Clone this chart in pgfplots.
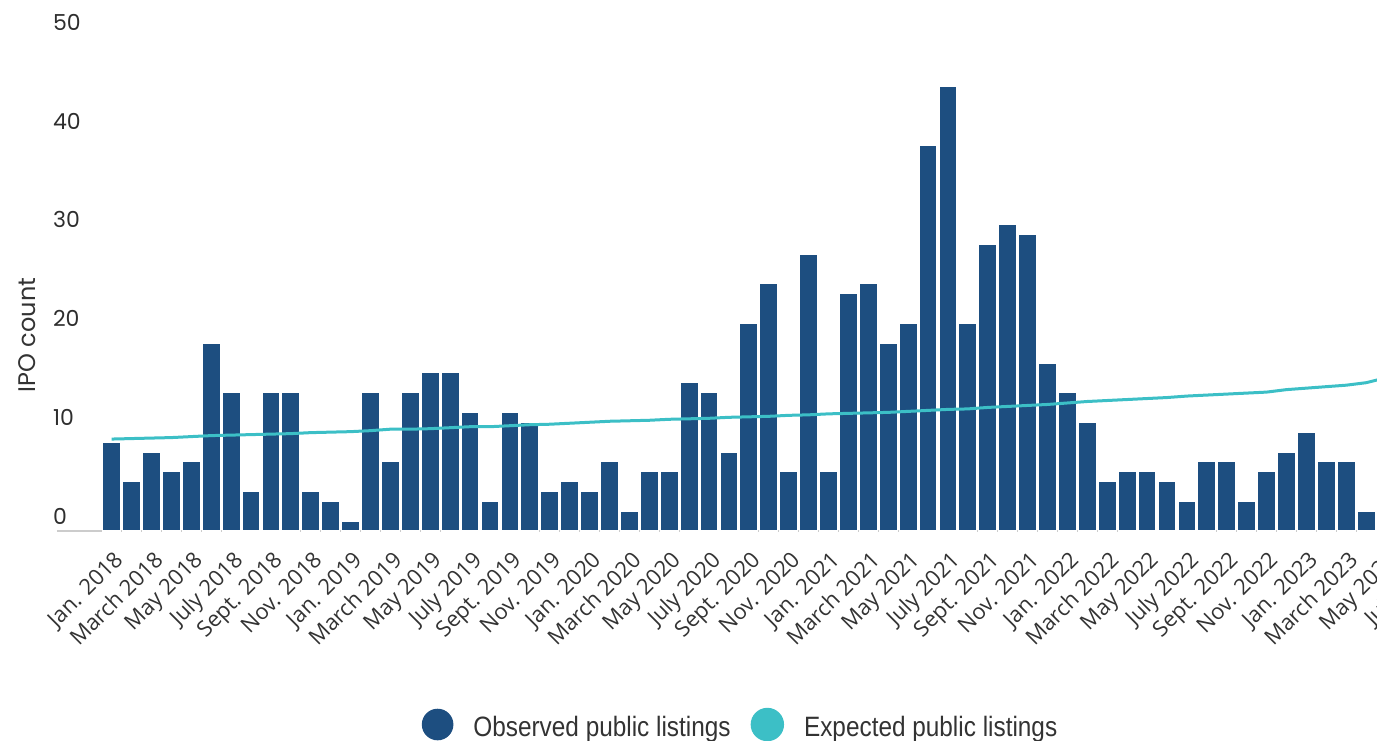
\documentclass[border=0pt]{standalone}
\usepackage{pgfplots}
\usepackage{pgfplotstable}
\pgfplotsset{compat=1.18}
\usepackage{fontspec}
\setmainfont{Open Sans}
\newfontfamily\popfont{Poppins}
\newfontfamily\legfont[FakeStretch=0.87]{Liberation Sans}
\definecolor{obs}{HTML}{1D4E80}
\definecolor{expc}{HTML}{3CBFC6}
\definecolor{txt}{HTML}{333333}

\pgfplotstableread{
idx val
0 9
1 5
2 8
3 6
4 7
5 19
6 14
7 4
8 14
9 14
10 4
11 3
12 1
13 14
14 7
15 14
16 16
17 16
18 12
19 3
20 12
21 11
22 4
23 5
24 4
25 7
26 2
27 6
28 6
29 15
30 14
31 8
32 21
33 25
34 6
35 28
36 6
37 24
38 25
39 19
40 21
41 39
42 45
43 21
44 29
45 31
46 30
47 17
48 14
49 11
50 5
51 6
52 6
53 5
54 3
55 7
56 7
57 3
58 6
59 8
60 10
61 7
62 7
63 2
64 4
}\obsdata

\pgfplotstableread{
idx val
0 9.3
1 9.35
2 9.4
3 9.45
4 9.55
5 9.65
6 9.7
7 9.75
8 9.8
9 9.85
10 9.95
11 10.0
12 10.05
13 10.15
14 10.3
15 10.3
16 10.35
17 10.45
18 10.55
19 10.55
20 10.65
21 10.75
22 10.8
23 10.9
24 11.0
25 11.1
26 11.15
27 11.2
28 11.3
29 11.35
30 11.4
31 11.5
32 11.55
33 11.6
34 11.7
35 11.75
36 11.85
37 11.9
38 11.95
39 12.0
40 12.1
41 12.2
42 12.3
43 12.35
44 12.5
45 12.6
46 12.7
47 12.8
48 12.95
49 13.1
50 13.2
51 13.3
52 13.4
53 13.5
54 13.65
55 13.75
56 13.85
57 13.95
58 14.05
59 14.3
60 14.45
61 14.6
62 14.75
63 15.0
64 15.5
}\expdata

\begin{document}
\begin{tikzpicture}
\useasboundingbox (0,0) rectangle (688.5pt,370pt);
\clip (0,0) rectangle (688.5pt,370pt);
\begin{axis}[
  at={(28.47pt,104.5pt)}, anchor=south west,
  scale only axis, width=694.4pt, height=247.15pt,
  xmin=-2.75, xmax=67, ymin=0, ymax=50,
  axis x line=bottom, axis y line=left,
  x axis line style={draw=gray!40, line width=0.9pt, -},
  y axis line style={draw=none},
  xtick={0,2,...,66},
  xticklabels={Jan. 2018,March 2018,May 2018,July 2018,Sept. 2018,Nov. 2018,
    Jan. 2019,March 2019,May 2019,July 2019,Sept. 2019,Nov. 2019,
    Jan. 2020,March 2020,May 2020,July 2020,Sept. 2020,Nov. 2020,
    Jan. 2021,March 2021,May 2021,July 2021,Sept. 2021,Nov. 2021,
    Jan. 2022,March 2022,May 2022,July 2022,Sept. 2022,Nov. 2022,
    Jan. 2023,March 2023,May 2023,July 2023},
  xtick style={draw=none}, ytick style={draw=none},
  ytick={0,10,...,50},
  /pgf/number format/assume math mode=true,
  yticklabel style={font=\popfont\fontsize{11}{11}\selectfont, text=txt!90!black, anchor=south west, inner sep=0pt, yshift=3pt},
  xticklabel style={font=\fontsize{11}{11}\selectfont, text=txt, inner sep=0pt, xshift=0.5pt, yshift=-7pt, rotate=45, anchor=north east},
  ylabel={IPO count},
  every axis y label/.style={at={(axis description cs:-0.02156,0.3965)}, rotate=90, anchor=center, font=\popfont\fontsize{12}{12}\selectfont, text=txt},
  legend columns=2,
  legend style={at={(0.4915,-0.3915)}, anchor=center, draw=none, fill=none,
    font=\legfont\fontsize{14}{14}\selectfont, text=txt,
    nodes={inner sep=0pt},
    /tikz/every odd column/.append style={column sep=10pt},
    /tikz/every even column/.append style={column sep=10pt}},
]
\addplot[ybar, bar width=9pt, fill=obs, draw=white, line width=0.6pt,
  legend image code/.code={\fill[obs] (7.6pt,1.5pt) circle (7.6pt);}]
  table[x=idx,y=val]{\obsdata};
\addlegendentry{Observed public listings}
\addplot[expc, line width=1.5pt, mark=none,
  legend image code/.code={\fill[expc] (7.6pt,1.5pt) circle (7.6pt);}]
  table[x=idx,y=val]{\expdata};
\addlegendentry{Expected public listings}
\end{axis}
\end{tikzpicture}
\end{document}
